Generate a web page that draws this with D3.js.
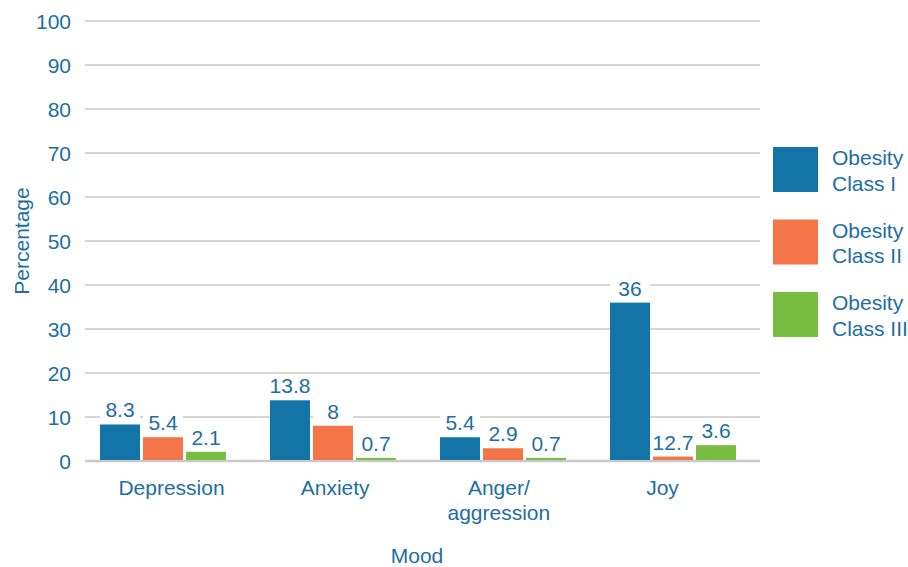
<!DOCTYPE html>
<html><head><meta charset="utf-8">
<script src="https://cdn.jsdelivr.net/npm/d3@7"></script>
<style>body{margin:0;background:#fff}svg{display:block}text{font-family:"Liberation Sans",Arial,sans-serif}</style>
</head><body><svg id="c" width="908" height="567"></svg>
<script>
const categories = [["Depression"], ["Anxiety"], ["Anger/", "aggression"], ["Joy"]];
const seriesNames = [["Obesity", "Class I"], ["Obesity", "Class II"], ["Obesity", "Class III"]];
const classI = [8.3, 13.8, 5.4, 36];
const classII = [5.4, 8, 2.9, 1.0];
const classIII = [2.1, 0.7, 0.7, 3.6];
const labelsI = ["8.3", "13.8", "5.4", "36"];
const labelsII = ["5.4", "8", "2.9", "12.7"];
const labelsIII = ["2.1", "0.7", "0.7", "3.6"];
const yTicks = [0, 10, 20, 30, 40, 50, 60, 70, 80, 90, 100];
const colors = ["#1375a7", "#f47548", "#79bc42"];
const txt = "#1d6ea3";
const fs = 21;

const series = [classI, classII, classIII];
const labels = [labelsI, labelsII, labelsIII];
const svg = d3.select("#c");
const y = d3.scaleLinear().domain([0, 100]).range([461, 21]);
const x0 = d3.scaleBand().domain(d3.range(categories.length)).range([78, 758]).paddingInner(0).paddingOuter(0);
const x1 = d3.scaleBand().domain(d3.range(3)).range([22, 148]).paddingInner(0.07).paddingOuter(0);
const xl = d3.scalePoint().domain(d3.range(categories.length)).range([171.5, 662.5]);

// gridlines
svg.append("g").selectAll("line").data(yTicks.filter(d => d > 0)).join("line")
  .attr("x1", 85).attr("x2", 760).attr("y1", d => y(d)).attr("y2", d => y(d))
  .attr("stroke", "#c9c9c9").attr("stroke-width", 1.5);
svg.append("line").attr("x1", 85).attr("x2", 760).attr("y1", y(0)).attr("y2", y(0))
  .attr("stroke", "#c9c9c9").attr("stroke-width", 2.5);

// y tick labels
svg.append("g").selectAll("text").data(yTicks).join("text")
  .attr("x", 71).attr("y", d => y(d) + 8).attr("text-anchor", "end")
  .attr("font-size", fs).attr("fill", txt).text(d => d);

// bars
series.forEach((vals, s) => {
  const g = svg.append("g");
  g.selectAll("rect").data(vals).join("rect")
    .attr("x", (d, i) => x0(i) + x1(s)).attr("width", x1.bandwidth())
    .attr("y", d => y(d)).attr("height", d => y(0) - y(d) - 1)
    .attr("fill", colors[s]);
});
// labels with white background
series.forEach((vals, s) => {
  const g = svg.append("g");
  vals.forEach((d, i) => {
    const cx = x0(i) + x1(s) + x1.bandwidth() / 2;
    const by = y(d) - 7;
    g.append("rect").attr("x", cx - x1.bandwidth() / 2).attr("width", x1.bandwidth())
      .attr("y", by - 19).attr("height", 23).attr("fill", "#fff");
    g.append("text").attr("x", cx).attr("y", by).attr("text-anchor", "middle")
      .attr("font-size", fs).attr("fill", txt).text(labels[s][i]);
  });
});

// x category labels
categories.forEach((lines, i) => {
  const t = svg.append("text").attr("text-anchor", "middle").attr("font-size", fs).attr("fill", txt);
  lines.forEach((l, k) => t.append("tspan").attr("x", xl(i)).attr("y", 495 + k * 24.5).text(l));
});

// axis titles
svg.append("text").attr("x", 417).attr("y", 563).attr("text-anchor", "middle")
  .attr("font-size", fs).attr("fill", txt).text("Mood");
svg.append("text").attr("transform", "translate(29,241) rotate(-90)").attr("text-anchor", "middle")
  .attr("font-size", fs).attr("fill", txt).text("Percentage");

// legend
seriesNames.forEach((lines, s) => {
  const top = 147 + s * 72.5;
  svg.append("rect").attr("x", 773).attr("y", top).attr("width", 45).attr("height", 45).attr("fill", colors[s]);
  const t = svg.append("text").attr("font-size", fs).attr("fill", txt);
  lines.forEach((l, k) => t.append("tspan").attr("x", 832).attr("y", top + 18 + k * 25.5).text(l));
});
</script></body></html>
